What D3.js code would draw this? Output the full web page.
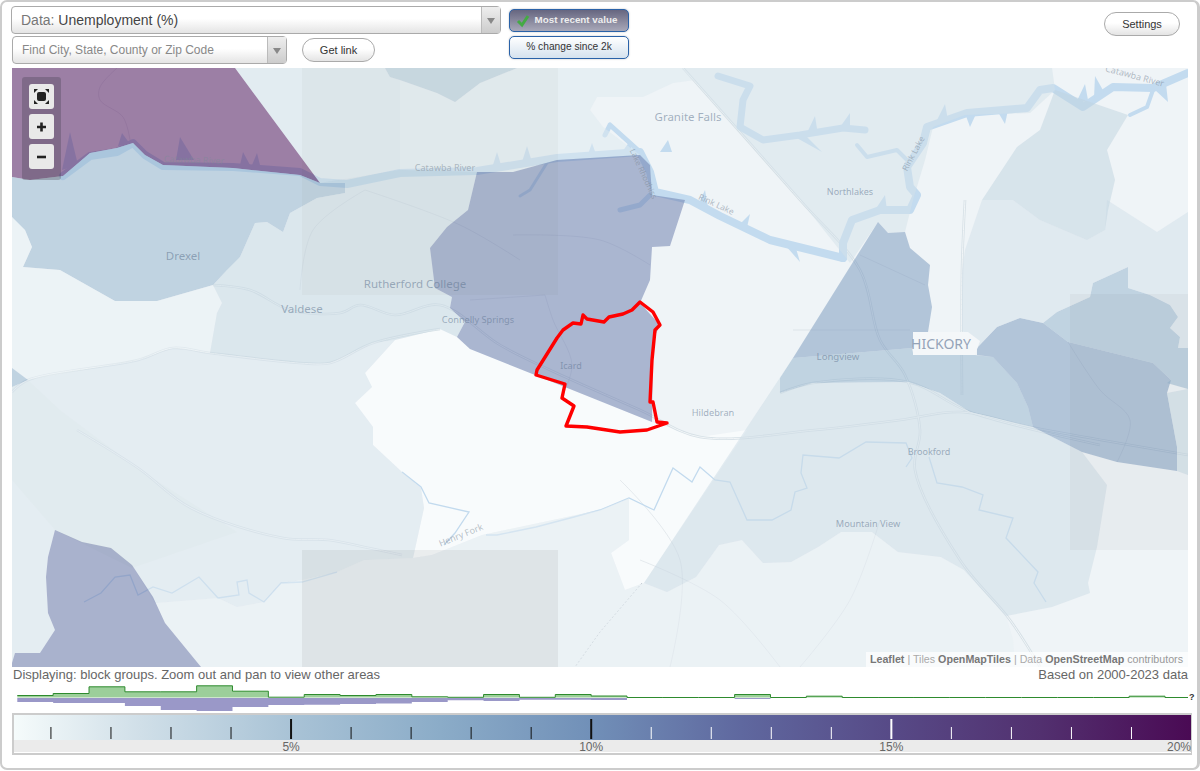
<!DOCTYPE html>
<html>
<head>
<meta charset="utf-8">
<script src="https://cdn.jsdelivr.net/npm/d3@7"></script>
<style>
html, body { margin: 0; padding: 0; background: #fff; overflow: hidden; }
body { width: 1200px; height: 771px; position: relative; font-family: "Liberation Sans", Arial, sans-serif; }
#frame { position: absolute; left: 0; top: 0; width: 1195px; height: 766px; border: 2px solid #ccc; border-right-width: 3px; border-radius: 7px; }
svg { position: absolute; left: 0; top: 0; }
.ctl { position: absolute; box-sizing: border-box; border: 1px solid #aaa; background: linear-gradient(#fff 45%, #e4e4e4); color: #333; white-space: nowrap; }
.select { border-radius: 4px; font-size: 14px; line-height: 27px; padding-left: 9px; color: #777; }
.select b { font-weight: normal; color: #444; }
.arrow { position: absolute; right: 0; top: 0; bottom: 0; width: 18px; border-left: 1px solid #bbb; background: linear-gradient(#eee, #ccc); }
.arrow:after { content: ""; position: absolute; left: 5px; top: 11px; border: 4px solid transparent; border-top: 6px solid #888; }
.pill { border-radius: 12px; font-size: 11px; text-align: center; line-height: 23px; color: #333; }
.tog { border: 1.5px solid #2a62a8; border-radius: 5px; font-size: 10.2px; text-align: center; line-height: 20px; box-shadow: 0 0 2px #bbb; }
</style>
</head>
<body>
<div id="frame"></div>
<div id="ui"></div>
<script>
// unemployment legend and histogram
var ratePoints = [0.4, 2.5, 5, 7.5, 10, 12.5, 15, 17.5, 20];
var rateColors = ["#f5fbfb", "#d0dfe8", "#a9c3d6", "#8bacc8", "#7190b8", "#5f689f", "#574a87", "#52306f", "#4a0a54"];
var minorTicks = [1, 2, 3, 4, 6, 7, 8, 9, 11, 12, 13, 14, 16, 17, 18, 19];
var majorTicks = [5, 10, 15];
var labelTicks = [5, 10, 15, 20];
var localShare = [2, 4, 10.7, 5.7, 5.7, 11.7, 6.3, 0.3, 3, 2, 3, 0.7, 0.2, 3, 0.2, 3, 1.5, 0, 0, 0, 3, 0, 1.3, 0, 0, 0, 0, 0, 0, 0, 0, 1.3];
var nationalShare = [4, 5, 5, 8, 12, 13, 9, 7, 6.7, 6, 5.5, 4, 2.3, 3, 1.7, 1.7, 2, 0, 0, 0, 1, 0, 0, 0, 0, 0, 0, 0, 0, 0, 0, 0];

// block groups
var topLeft = [[12,68],[235,68],[320,183],[300,175],[233,168],[163,165],[145,155],[133,143],[117,148],[90,153],[63,176],[30,180],[12,177]];
var drexel = [[12,177],[30,180],[63,176],[90,153],[117,148],[133,143],[145,155],[163,165],[233,168],[300,175],[320,183],[345,183],[345,193],[317,198],[290,213],[283,232],[267,222],[255,223],[240,257],[227,270],[213,285],[157,301],[115,301],[60,270],[23,267],[32,247],[25,230],[12,217]];
var westStrip = [[12,217],[25,230],[32,247],[23,267],[60,270],[115,301],[157,301],[213,285],[222,303],[217,313],[210,353],[173,348],[138,360],[28,380],[12,368]];
var westCorner = [[12,368],[28,380],[12,387]];
var valdese = [[320,183],[400,170],[477,172],[468,210],[447,227],[430,248],[435,288],[452,297],[450,308],[465,322],[457,337],[440,329],[395,340],[373,343],[330,363],[300,363],[210,353],[217,313],[222,303],[213,285],[227,270],[240,257],[255,223],[267,222],[283,232],[290,213],[317,198],[345,193],[345,183]];
var northRiver = [[235,68],[385,68],[390,77],[400,80],[400,170],[320,183]];
var northBump = [[385,68],[390,77],[400,80],[437,93],[455,102],[480,83],[517,68]];
var topMiddle = [[400,80],[437,93],[455,102],[480,83],[517,68],[683,68],[695,80],[673,83],[643,97],[597,97],[590,110],[603,127],[640,155],[557,160],[513,172],[477,172],[400,170]];
var icardNorth = [[477,172],[513,172],[557,160],[640,155],[650,165],[652,195],[685,200],[670,246],[652,247],[650,280],[640,303],[660,325],[653,340],[652,422],[535,375],[470,349],[457,337],[465,322],[450,308],[452,297],[435,288],[430,248],[447,227],[468,210]];
var southWest = [[12,387],[28,380],[138,360],[173,348],[210,353],[300,363],[330,363],[373,343],[395,340],[365,373],[372,387],[355,403],[373,427],[373,445],[402,472],[421,488],[424,508],[413,558],[364,560],[337,572],[302,580],[281,583],[264,602],[237,607],[218,598],[155,603],[132,565],[111,548],[82,542],[55,530],[48,557],[46,577],[48,613],[55,630],[40,653],[15,653],[12,663]];
var southBand = [[155,603],[218,598],[237,607],[264,602],[281,583],[302,580],[337,572],[364,560],[413,558],[432,555],[482,535],[600,510],[629,498],[629,540],[611,553],[625,590],[644,583],[667,592],[696,577],[719,545],[742,540],[763,563],[791,562],[818,547],[841,532],[872,532],[898,552],[941,557],[964,570],[1006,616],[1013,640],[1015,667],[201,667],[165,623]];
var southPurple = [[55,530],[82,542],[111,548],[132,565],[153,597],[165,623],[201,667],[12,667],[12,663],[15,653],[40,653],[55,630],[48,613],[46,577],[48,557]];
var northLakes = [[683,68],[1052,68],[1055,90],[1030,113],[965,115],[933,127],[925,160],[913,200],[905,232],[888,233],[878,222],[850,263],[800,200]];
var hickoryNorth = [[878,222],[888,233],[905,232],[910,248],[930,265],[928,285],[932,307],[928,332],[912,348],[793,358]];
var longview = [[780,378],[793,358],[912,348],[913,353],[975,355],[993,357],[1017,383],[1028,407],[1033,427],[970,412],[940,393],[908,382],[813,383],[780,393]];
var mountainView = [[793,358],[780,378],[780,393],[813,383],[908,382],[940,393],[970,412],[1033,427],[1082,452],[1107,485],[1097,547],[1088,583],[1090,593],[1052,607],[1006,616],[964,570],[941,557],[898,552],[872,532],[841,532],[818,547],[791,562],[763,563],[742,540],[719,545],[696,577],[667,592],[644,583]];
var eastDark = [[977,348],[997,327],[1020,318],[1043,323],[1068,342],[1153,363],[1171,380],[1167,393],[1177,447],[1177,471],[1117,462],[1082,452],[1033,427],[1028,407],[1017,383],[993,357],[977,355]];
var eastMid = [[1043,323],[1057,312],[1090,297],[1093,283],[1128,267],[1128,288],[1150,295],[1170,305],[1178,317],[1170,328],[1180,337],[1178,348],[1188,348],[1188,389],[1167,383],[1171,380],[1153,363],[1068,342]];
var eastStrip = [[1167,393],[1188,389],[1188,475],[1177,471],[1177,447]];
var northEast = [[982,200],[965,250],[962,272],[962,330],[977,348],[997,327],[1020,318],[1043,323],[1057,312],[1090,297],[1093,283],[1128,267],[1128,288],[1150,295],[1170,305],[1178,317],[1170,328],[1180,337],[1178,348],[1188,348],[1188,212],[1157,232],[1107,200],[1105,230],[1087,240],[1040,220],[1013,200]];
var northEastMid = [[1055,90],[1128,115],[1107,150],[1115,180],[1108,210],[1105,230],[1087,240],[1040,220],[1013,200],[982,200],[1017,147],[1040,130]];

var regions = [
  { path: northLakes, value: 2.3 }, { path: northRiver, value: 2.2 }, { path: topMiddle, value: 1.7 }, { path: northBump, value: 5 },
  { path: topLeft, value: 20 }, { path: drexel, value: 7 }, { path: westStrip, value: 1.1 }, { path: westCorner, value: 7 },
  { path: valdese, value: 3 }, { path: icardNorth, value: 11.5 }, { path: southWest, value: 2 }, { path: southBand, value: 1.2 },
  { path: southPurple, value: 12 }, { path: hickoryNorth, value: 9.5 }, { path: longview, value: 7 }, { path: mountainView, value: 2.8 },
  { path: eastDark, value: 9.5 }, { path: eastMid, value: 7 }, { path: eastStrip, value: 3.2 }, { path: northEast, value: 2.4 }, { path: northEastMid, value: 3.6 }
];

// lowest rate area, south of Icard
var lowestArea = [[440,329],[457,337],[470,349],[535,375],[652,422],[700,437],[747,430],[644,583],[625,590],[611,553],[629,540],[629,498],[600,510],[482,535],[432,555],[413,558],[424,508],[421,488],[402,472],[373,445],[373,427],[355,403],[372,387],[365,373],[395,340]];
var forestArea = [[12,387],[28,380],[60,410],[140,470],[237,532],[132,568],[55,530],[12,480]];

var selectedArea = [[640,302],[653,312],[660,325],[655,330],[652,360],[650,402],[653,402],[657,422],[667,423],[647,430],[620,432],[587,427],[566,426],[574,406],[562,398],[565,384],[536,375],[537,370],[557,338],[563,330],[573,323],[581,324],[583,315],[587,319],[604,322],[609,317],[623,314],[632,310]];

// base map: water and roads
var lakes = [
  { w: 8, line: [[63,176],[90,156],[117,152],[133,143],[145,155],[163,166],[233,167],[300,172],[320,182],[347,184],[400,173],[477,171],[557,158],[640,152],[650,172],[655,192],[690,200],[720,216],[770,240],[843,258]] },
  { w: 8, line: [[843,258],[843,243],[852,220],[880,210],[910,210],[917,195],[910,187],[907,167],[923,143],[927,127],[967,113],[1027,108],[1040,90],[1053,88],[1083,107],[1113,87],[1153,88],[1188,73]] },
  { w: 7, line: [[718,76],[750,86],[743,100],[740,127],[763,140],[800,135],[843,128],[865,130]] },
  { w: 4, line: [[857,145],[867,157],[897,150],[907,160]] },
  { w: 4, line: [[1153,90],[1147,107],[1130,115]] },
  { w: 5, line: [[650,195],[640,205],[620,210]] },
  { w: 5, line: [[640,152],[610,125],[605,135]] },
  { w: 3, line: [[550,158],[530,190],[520,196]] }
];
// small tapering inlets along the lakes
var inlets = [
  [[62,170],[70,132],[78,165]], [[176,160],[180,137],[194,160]], [[118,146],[122,133],[130,144]], [[240,165],[243,152],[250,165]], [[252,165],[257,153],[260,165]],
  [[492,168],[497,152],[502,168]], [[522,162],[527,146],[532,162]], [[587,157],[592,143],[597,157]], [[622,152],[630,141],[632,152]], [[660,152],[668,140],[672,152]],
  [[698,205],[705,190],[708,207]], [[738,226],[750,214],[746,232]], [[785,245],[800,262],[795,245]], [[875,210],[885,195],[887,210]],
  [[966,116],[970,127],[976,114]], [[998,112],[1005,124],[1008,110]], [[935,124],[945,104],[948,120]], [[1075,105],[1085,84],[1088,100]], [[1094,98],[1095,76],[1104,92]],
  [[1155,90],[1168,102],[1166,84]], [[805,137],[815,116],[818,135]], [[838,130],[850,113],[850,128]], [[795,137],[822,152],[806,136]]
];
var creeks = [
  [[84,602],[101,593],[115,577],[130,575],[138,595],[153,587],[172,593],[199,577],[218,598],[239,595],[237,582],[247,580],[249,593],[264,602],[281,583],[302,582],[337,572]],
  [[486,535],[497,535],[536,527],[574,517],[600,510],[629,498],[654,510],[673,468],[692,482],[700,467],[715,480],[730,482],[747,520],[772,520],[791,510],[795,492],[807,488],[801,473],[803,455],[839,458],[866,442],[906,443],[912,458],[906,467]],
  [[929,457],[937,483],[962,487],[983,495],[979,510],[1013,518],[1006,538],[1038,572],[1034,583],[1046,602]],
  [[402,472],[421,487],[429,503],[469,512],[455,533],[444,545]]
];
var roads = [
  [[12,392],[28,380],[138,360],[173,348],[210,353],[300,363],[330,363],[373,343],[440,329]],
  [[213,285],[250,290],[290,310],[340,313],[360,305],[395,315],[440,305],[500,345],[550,370],[640,410],[700,437],[815,430],[900,420],[960,412],[1030,427],[1188,455]],
  [[683,68],[800,200],[860,270],[880,340],[905,375],[920,430],[915,470],[960,560],[1010,620],[1040,667]],
  [[77,430],[138,468],[191,508],[283,538],[329,540],[364,547],[402,555]],
  [[780,393],[813,383],[908,382],[970,412],[1100,445]],
  [[965,200],[962,270],[962,395]]
];
var minorLines = [
  [[513,235],[600,240],[650,265]], [[545,295],[553,320],[572,365],[560,400]], [[470,300],[545,295]], [[300,290],[313,230],[365,190]],
  [[365,190],[460,225],[520,260]], [[117,68],[100,87],[100,100],[123,117],[130,140]], [[1068,342],[1100,390],[1130,420],[1117,462]], [[793,330],[910,330]],
  [[860,255],[925,285]], [[620,480],[680,560],[670,667]], [[880,520],[850,600],[800,667]], [[640,560],[720,600],[780,667]]
];
var railLine = [[642,583],[600,632],[575,667]];

var placeLabels = [
  { t: "Granite Falls", x: 688, y: 121, s: 11.5 }, { t: "Northlakes", x: 850, y: 195, s: 9 }, { t: "Drexel", x: 183, y: 260, s: 11.5 },
  { t: "Rutherford College", x: 415, y: 288, s: 11.5 }, { t: "Valdese", x: 302, y: 313, s: 11.5 }, { t: "Connelly Springs", x: 478, y: 323, s: 9.2 },
  { t: "Icard", x: 571, y: 369, s: 9 }, { t: "Hildebran", x: 713, y: 416, s: 9.2 }, { t: "Longview", x: 838, y: 360, s: 9.6 },
  { t: "Brookford", x: 929, y: 455, s: 9 }, { t: "Mountain View", x: 868, y: 527, s: 9.2 }
];
var waterLabels = [
  { t: "Catawba River", x: 194, y: 163, s: 9, r: 2 }, { t: "Catawba River", x: 445, y: 171, s: 9, r: 0 }, { t: "Rink Lake", x: 715, y: 207, s: 8.5, r: 25 },
  { t: "Rink Lake", x: 916, y: 155, s: 8.5, r: -62 }, { t: "Lake Rhodhiss", x: 641, y: 175, s: 8, r: 65 }, { t: "Catawba River", x: 1134, y: 79, s: 9, r: 15 },
  { t: "Henry Fork", x: 462, y: 538, s: 9, r: -22 }
];
var tiles = [{ c: [302,68,558,295], a: 0.03 }, { c: [302,550,558,667], a: 0.065 }, { c: [1070,294,1188,550], a: 0.04 }];

var width = 1200;
var height = 771;
var mapBox = { left: 12, top: 68, right: 1188, bottom: 667 };

var mapX = d3.scaleLinear().domain([12, 1188]).range([mapBox.left, mapBox.right]);
var mapY = d3.scaleLinear().domain([68, 667]).range([mapBox.top, mapBox.bottom]);
var outline = d3.line().x(function(d) { return mapX(d[0]); }).y(function(d) { return mapY(d[1]); });
var smooth = d3.line().x(function(d) { return mapX(d[0]); }).y(function(d) { return mapY(d[1]); }).curve(d3.curveCatmullRom.alpha(0.5));
var rateColor = d3.scaleLinear().domain(ratePoints).range(rateColors).clamp(true);

var svg = d3.select("body").append("svg").attr("width", width).attr("height", height);
svg.append("defs").append("clipPath").attr("id", "mapClip").append("rect")
  .attr("x", mapBox.left).attr("y", mapBox.top).attr("width", mapBox.right - mapBox.left).attr("height", mapBox.bottom - mapBox.top);

var map = svg.append("g").attr("clip-path", "url(#mapClip)");
map.append("rect").attr("x", mapBox.left).attr("y", mapBox.top).attr("width", mapBox.right - mapBox.left).attr("height", mapBox.bottom - mapBox.top).attr("fill", "#eff4f7");
map.append("path").attr("d", outline(lowestArea) + "Z").attr("fill", "#f8fbfc");
map.append("path").attr("d", outline(forestArea) + "Z").attr("fill", "#d6e8da").attr("fill-opacity", 0.25);

map.selectAll(".road").data(roads).enter().append("path").attr("d", smooth).attr("fill", "none").attr("stroke", "#d6e0e6").attr("stroke-width", 2.6);
map.selectAll(".roadIn").data(roads).enter().append("path").attr("d", smooth).attr("fill", "none").attr("stroke", "#f2f6f8").attr("stroke-width", 1);
map.selectAll(".minor").data(minorLines).enter().append("path").attr("d", smooth).attr("fill", "none").attr("stroke", "#b9c4cc").attr("stroke-opacity", 0.4).attr("stroke-width", 0.8);
map.selectAll(".lake").data(lakes).enter().append("path").attr("d", function(d) { return outline(d.line); })
  .attr("fill", "none").attr("stroke", "#c3dbef").attr("stroke-width", function(d) { return d.w; }).attr("stroke-linejoin", "round").attr("stroke-linecap", "round");
map.selectAll(".inlet").data(inlets).enter().append("path").attr("d", function(d) { return outline(d) + "Z"; }).attr("fill", "#c3dbef");
map.selectAll(".creek").data(creeks).enter().append("path").attr("d", outline).attr("fill", "none").attr("stroke", "#c2daee").attr("stroke-width", 1.3);
map.append("path").attr("d", outline(railLine)).attr("fill", "none").attr("stroke", "#b5bfc6").attr("stroke-width", 0.8).attr("stroke-dasharray", "2,2");

map.selectAll(".region").data(regions).enter().append("path")
  .attr("d", function(d) { return outline(d.path) + "Z"; })
  .attr("fill", function(d) { return rateColor(d.value); })
  .attr("fill-opacity", 0.5);

map.selectAll(".tile").data(tiles).enter().append("rect")
  .attr("x", function(d) { return mapX(d.c[0]); }).attr("y", function(d) { return mapY(d.c[1]); })
  .attr("width", function(d) { return mapX(d.c[2]) - mapX(d.c[0]); }).attr("height", function(d) { return mapY(d.c[3]) - mapY(d.c[1]); })
  .attr("fill", "#33332a").attr("fill-opacity", function(d) { return d.a; });

// place names
map.selectAll(".place").data(placeLabels).enter().append("text")
  .attr("x", function(d) { return mapX(d.x); }).attr("y", function(d) { return mapY(d.y); })
  .attr("text-anchor", "middle").attr("font-family", "Noto Sans").attr("font-size", function(d) { return d.s; })
  .attr("fill", "#5f7590").attr("fill-opacity", 0.55).text(function(d) { return d.t; });
map.selectAll(".water").data(waterLabels).enter().append("text")
  .attr("transform", function(d) { return "translate(" + mapX(d.x) + "," + mapY(d.y) + ") rotate(" + d.r + ")"; })
  .attr("text-anchor", "middle").attr("font-family", "Noto Sans").attr("font-size", function(d) { return d.s; })
  .attr("fill", "#7d8a98").attr("fill-opacity", 0.55).text(function(d) { return d.t; });
map.append("path").attr("d", "M913 332H968L980 341L975 355H913Z").attr("fill", "#f4f7f9");
map.append("text").attr("x", 941).attr("y", 349).attr("text-anchor", "middle").attr("font-family", "Noto Sans").attr("font-size", 14)
  .attr("fill", "#94a3b8").text("HICKORY");

map.append("path").attr("d", outline(selectedArea) + "Z").attr("fill", "none").attr("stroke", "#f00").attr("stroke-width", 3.4).attr("stroke-linejoin", "round");

// zoom buttons
var zoomBox = svg.append("g");
zoomBox.append("rect").attr("x", 22).attr("y", 77).attr("width", 39).attr("height", 103).attr("rx", 3).attr("fill", "#3c3c48").attr("fill-opacity", 0.3);
[84, 114, 144].forEach(function(y) {
  zoomBox.append("rect").attr("x", 29).attr("y", y).attr("width", 25).attr("height", 25).attr("rx", 3).attr("fill", "#e9e9e9");
});
zoomBox.append("rect").attr("x", 37).attr("y", 92).attr("width", 9).attr("height", 9).attr("rx", 2).attr("fill", "#222");
zoomBox.append("path").attr("d", "M34 89l4 0l-4 4zM49 89l-4 0l4 4zM34 104l4 0l-4 -4zM49 104l-4 0l4 -4z").attr("fill", "#222");
zoomBox.append("path").attr("d", "M41.5 122.5v9M37 127h9").attr("stroke", "#222").attr("stroke-width", 2.6);
zoomBox.append("path").attr("d", "M37 157h9").attr("stroke", "#222").attr("stroke-width", 2.6);

// attribution
svg.append("rect").attr("x", 866).attr("y", 652).attr("width", 322).attr("height", 15).attr("fill", "#fff").attr("fill-opacity", 0.7);
var attrib = svg.append("text").attr("x", 1183).attr("y", 663).attr("text-anchor", "end").attr("font-size", 10.7).attr("font-family", "Liberation Sans");
[["Leaflet", "#777"], [" | Tiles ", "#aaa"], ["OpenMapTiles", "#777"], [" | Data ", "#aaa"], ["OpenStreetMap", "#777"], [" contributors", "#999"]].forEach(function(p) {
  attrib.append("tspan").attr("fill", p[1]).attr("font-weight", p[1] == "#777" ? "bold" : "normal").text(p[0]);
});
svg.append("text").attr("x", 13).attr("y", 679).attr("font-size", 13).attr("fill", "#666").text("Displaying: block groups. Zoom out and pan to view other areas");
svg.append("text").attr("x", 1188).attr("y", 679).attr("text-anchor", "end").attr("font-size", 13).attr("fill", "#666").text("Based on 2000-2023 data");

// histogram above the colour bar
var binX = d3.scaleLinear().domain([0, localShare.length]).range([17.3, 1165]);
var shareUp = d3.scaleLinear().domain([0, 14]).range([697.5, 683.5]);
var shareDown = d3.scaleLinear().domain([0, 14]).range([698, 712]);
var bins = localShare.map(function(v, i) { return { i: i, local: v, national: nationalShare[i] }; });
bins.push({ i: localShare.length, local: 0, national: 0 });

svg.append("path").datum(bins)
  .attr("d", d3.area().curve(d3.curveStepAfter).x(function(d) { return binX(d.i); }).y0(shareDown(0)).y1(function(d) { return shareDown(d.national); }))
  .attr("fill", "#9a98c8");
svg.append("path").datum(bins)
  .attr("d", d3.area().curve(d3.curveStepAfter).x(function(d) { return binX(d.i); }).y0(shareUp(0)).y1(function(d) { return shareUp(d.local); }))
  .attr("fill", "#9ccf9a");
svg.append("path").datum(bins)
  .attr("d", d3.line().curve(d3.curveStepAfter).x(function(d) { return binX(d.i); }).y(function(d) { return shareUp(d.local); }))
  .attr("fill", "none").attr("stroke", "#2e8b2e").attr("stroke-width", 1);
svg.append("line").attr("x1", binX(localShare.length)).attr("x2", 1188).attr("y1", shareUp(0)).attr("y2", shareUp(0)).attr("stroke", "#2e8b2e");
svg.append("text").attr("x", 1189).attr("y", 700).attr("font-size", 9).attr("font-weight", "bold").attr("fill", "#333").text("?");

// colour bar
var legendX = d3.scaleLinear().domain([0, 20]).range([-9.6, 1191]);
var grad = svg.select("defs").append("linearGradient").attr("id", "rateGrad");
ratePoints.forEach(function(r, i) {
  grad.append("stop").attr("offset", (legendX(r) - legendX(ratePoints[0])) / (legendX(20) - legendX(ratePoints[0]))).attr("stop-color", rateColors[i]);
});
svg.append("rect").attr("x", 13).attr("y", 714).attr("width", 1178).attr("height", 40).attr("fill", "#ebebeb").attr("stroke", "#ccc").attr("stroke-width", 2);
svg.append("rect").attr("x", 14).attr("y", 715).attr("width", 1177).attr("height", 25).attr("fill", "url(#rateGrad)");
svg.append("rect").attr("x", 14).attr("y", 752).attr("width", 1177).attr("height", 1).attr("fill", "#fff");

function tickColor(d) { return d > 10 ? "#fff" : "#111"; }
svg.append("g").attr("transform", "translate(0,739)")
  .call(d3.axisTop(legendX).tickValues(minorTicks).tickSize(12).tickFormat(""))
  .call(function(g) { g.select(".domain").remove(); })
  .selectAll(".tick line").attr("stroke", tickColor).attr("stroke-width", 1);
svg.append("g").attr("transform", "translate(0,739)")
  .call(d3.axisTop(legendX).tickValues(majorTicks).tickSize(20).tickFormat(""))
  .call(function(g) { g.select(".domain").remove(); })
  .selectAll(".tick line").attr("stroke", tickColor).attr("stroke-width", 2);
var legendLabels = svg.append("g").attr("transform", "translate(0,740)")
  .call(d3.axisBottom(legendX).tickValues(labelTicks).tickSize(0).tickPadding(2).tickFormat(function(d) { return d + "%"; }));
legendLabels.select(".domain").remove();
legendLabels.selectAll("text").attr("font-size", 12).attr("font-family", "Liberation Sans").attr("fill", "#666")
  .attr("text-anchor", function(d) { return d == 20 ? "end" : "middle"; })
  .attr("dx", function(d) { return d == 20 ? -0.5 : 0; });

// page controls
var ui = d3.select("#ui");
function ctl(cls, x, y, w, h, html, extra) {
  var el = ui.append("div").attr("class", "ctl " + cls).style("left", x + "px").style("top", y + "px").style("width", w + "px").style("height", h + "px").html(html);
  if (extra) { Object.keys(extra).forEach(function(k) { el.style(k, extra[k]); }); }
  return el;
}
ctl("select", 11, 6, 490, 28, 'Data: <b>Unemployment (%)</b><span class="arrow"></span>');
ctl("select", 12, 36, 275, 28, 'Find City, State, County or Zip Code<span class="arrow"></span>', { "font-size": "12px", "color": "#888" });
ctl("pill", 302, 38, 73, 24, "Get link");
ctl("pill", 1104, 12, 76, 24, "Settings");
ctl("tog", 509, 9, 120, 23, '<svg width="14" height="14" style="left:6px;top:4px"><path d="M2 7l4 4l6 -9" fill="none" stroke="#4a4" stroke-width="3"/></svg><span style="margin-left:14px">Most recent value</span>',
  { "background": "linear-gradient(#666680, #a8a8b8)", "color": "#eee", "font-weight": "bold", "font-size": "9.8px" });
ctl("tog", 509, 36, 120, 23, "% change since 2k", { "background": "linear-gradient(#fff, #d5e2ee)", "color": "#333" });
</script>
</body>
</html>
